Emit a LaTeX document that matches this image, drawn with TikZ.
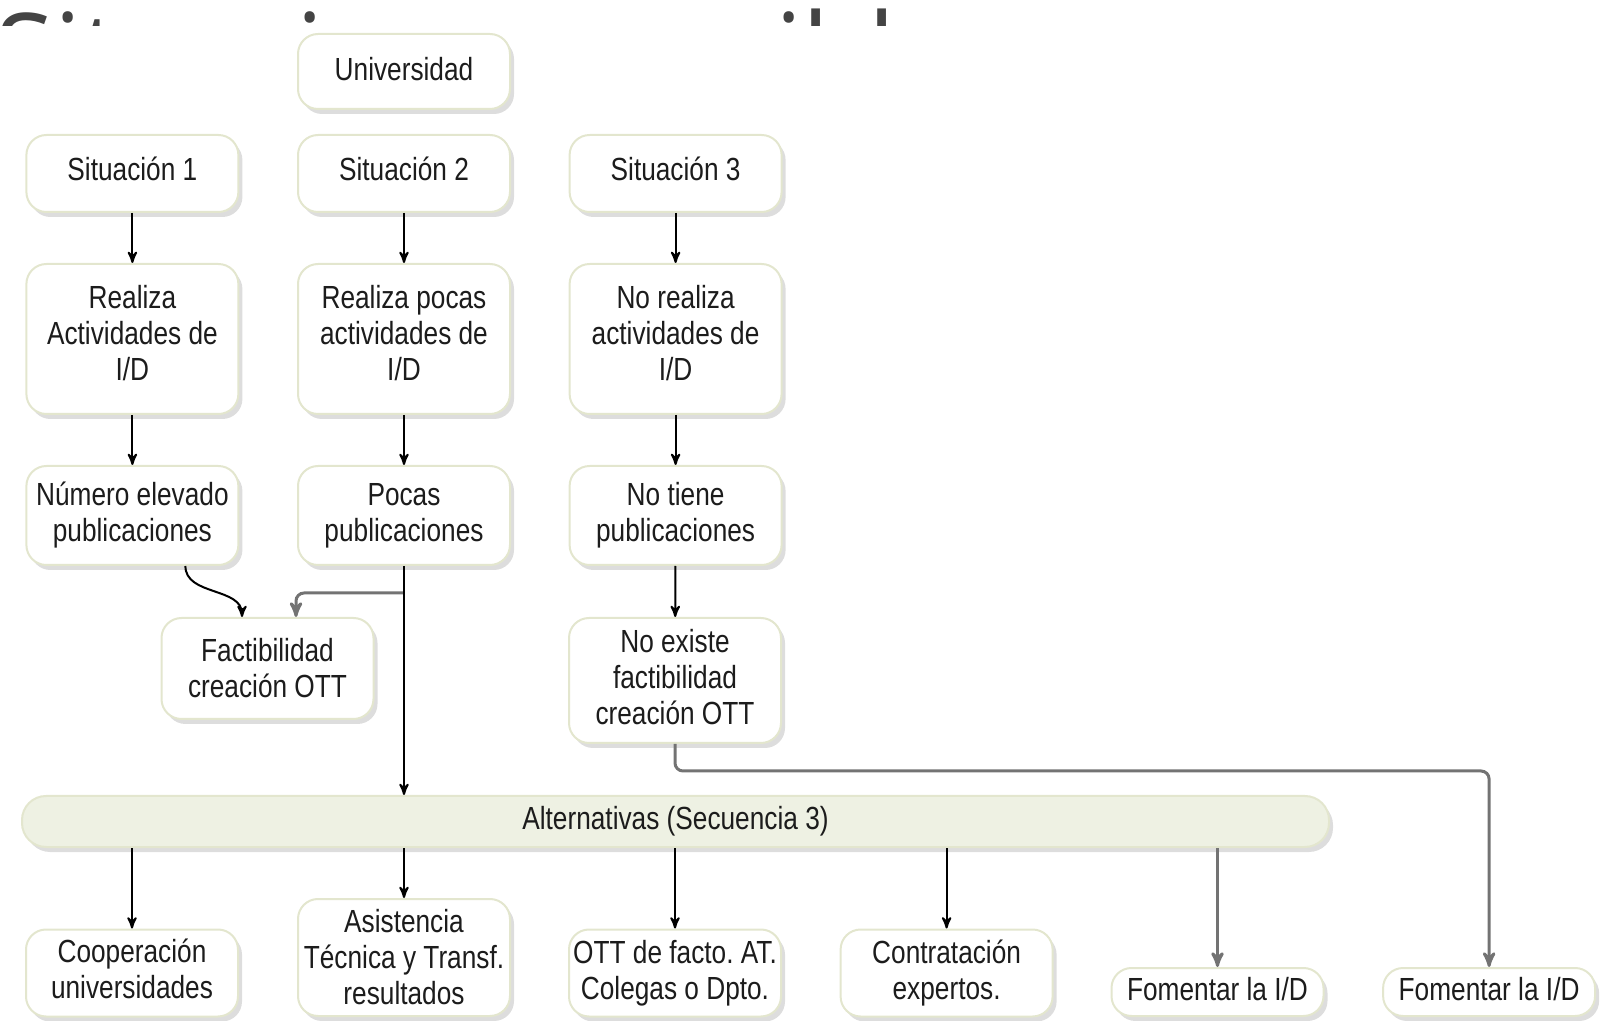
\documentclass[tikz,border=0pt]{standalone}
\usepackage{fontspec}
\setmainfont[FakeStretch=0.82]{Liberation Sans}
\newfontfamily\titlefont{Open Sans}
\usepackage{tikz}
\usepackage{xcolor}
\usetikzlibrary{arrows,shadows,positioning}
\definecolor{boxline}{HTML}{E3E6CE}
\definecolor{barfill}{HTML}{EEF1E3}
\definecolor{txt}{HTML}{1C1C1C}
\definecolor{titlegray}{HTML}{444444}
\frenchspacing

\begin{document}
\begin{tikzpicture}[x=0.5pt, y=-0.5pt, node distance={135.8pt}, >=stealth',
    box/.style = {draw=boxline, line width=1pt, fill=white, rounded corners=10pt,
      minimum width=106pt, inner sep=2pt, align=center, text=txt,
      font=\fontsize{16}{18}\selectfont,
      drop shadow={shadow xshift=2pt, shadow yshift=-2.5pt, opacity=0.22, fill=black!60}},
    bar/.style = {box, fill=barfill, minimum width=653.5pt, minimum height=25.5pt, rounded corners=12pt},
    link/.style = {->, line width=1pt, draw=black},
    glink/.style = {->, line width=1.5pt, draw=black!55}]
  \useasboundingbox (0,0) rectangle (1603,1021);

  % title, cut off by the diagram
  \begin{scope}
    \clip (0,0) rectangle (1603,26);
    \node[anchor=base west, inner sep=0pt, text=titlegray,
      font=\titlefont\fontsize{53.7}{60}\selectfont] (title) at (-5,91) {Situaciones posibles};
  \end{scope}

  \node[box, minimum height=37.5pt, text depth=3pt] (u_2) at (404,71.5) {Universidad};

  \node[box, minimum height=38.5pt, text depth=5pt] (s_2) at (404,173.5) {Situación 2};
  \node[box, minimum height=38.5pt, text depth=5pt] (s_1) [left of=s_2] {Situación 1};
  \node[box, minimum height=38.5pt, text depth=5pt] (s_3) [right of=s_2] {Situación 3};

  \node[box, minimum height=75pt, text depth=6.4pt] (r_2) at (404,339) {Realiza pocas\\actividades de\\I/D};
  \node[box, minimum height=75pt, text depth=6.4pt] (r_1) [left of=r_2] {Realiza\\Actividades de\\I/D};
  \node[box, minimum height=75pt, text depth=6.4pt] (r_3) [right of=r_2] {No realiza\\actividades de\\I/D};

  \node[box, minimum height=49.5pt] (p_2) at (404,515.5) {Pocas\\publicaciones};
  \node[box, minimum height=49.5pt] (p_1) [left of=p_2] {Número elevado\\publicaciones};
  \node[box, minimum height=49.5pt] (p_3) [right of=p_2] {No tiene\\publicaciones};

  \node[box, minimum height=50.5pt] (f_1) at (267.5,668.5) {Factibilidad\\creación OTT};
  \node[box, minimum height=62.5pt, text depth=4pt] (n_3) at (675,680.5) {No existe\\factibilidad\\creación OTT};

  \node[bar] (alt) at (675.5,821.5) {Alternativas (Secuencia 3)};

  \node[box, minimum height=43.5pt, text depth=4.6pt] (c_1) at (132,973) {Cooperación\\universidades};
  \node[box, minimum height=58.5pt] (c_2) at (404,957.5) {Asistencia\\Técnica y Transf.\\resultados};
  \node[box, minimum height=43.5pt] (c_3) at (675,973) {OTT de facto. AT.\\Colegas o Dpto.};
  \node[box, minimum height=43.5pt] (c_4) [right of=c_3] {Contratación\\expertos.};
  \node[box, minimum height=24pt, text depth=3pt] (c_5) at (1217.5,992) {Fomentar la I/D};
  \node[box, minimum height=24pt, text depth=3pt] (c_6) [right of=c_5] {Fomentar la I/D};

  \draw[link] (s_1) -- (r_1);
  \draw[link] (s_2) -- (r_2);
  \draw[link] (s_3) -- (r_3);
  \draw[link] (r_1) -- (p_1);
  \draw[link] (r_2) -- (p_2);
  \draw[link] (r_3) -- (p_3);
  \draw[link] (p_3) -- (n_3);

  % into Factibilidad
  \draw[link] ([xshift=26.5pt]p_1.south) to[out=-90, in=90] ([xshift=-12.75pt]f_1.north);
  \coordinate (k_2) at (404,593);
  \draw[glink, rounded corners=4pt] (k_2) -| ([xshift=14.25pt]f_1.north);
  \draw[link] (p_2) -- (p_2 |- alt.north);

  % alternativas
  \draw[link] (alt.south -| c_1) -- (c_1);
  \draw[link] (alt.south -| c_2) -- (c_2);
  \draw[link] (alt.south -| c_3) -- (c_3);
  \draw[link] (alt.south -| c_4) -- (c_4);
  \draw[glink] (alt.south -| c_5) -- (c_5);
  \draw[glink, rounded corners=4pt] (n_3.south) -- ++(0,27) -| (c_6.north);
\end{tikzpicture}
\end{document}
